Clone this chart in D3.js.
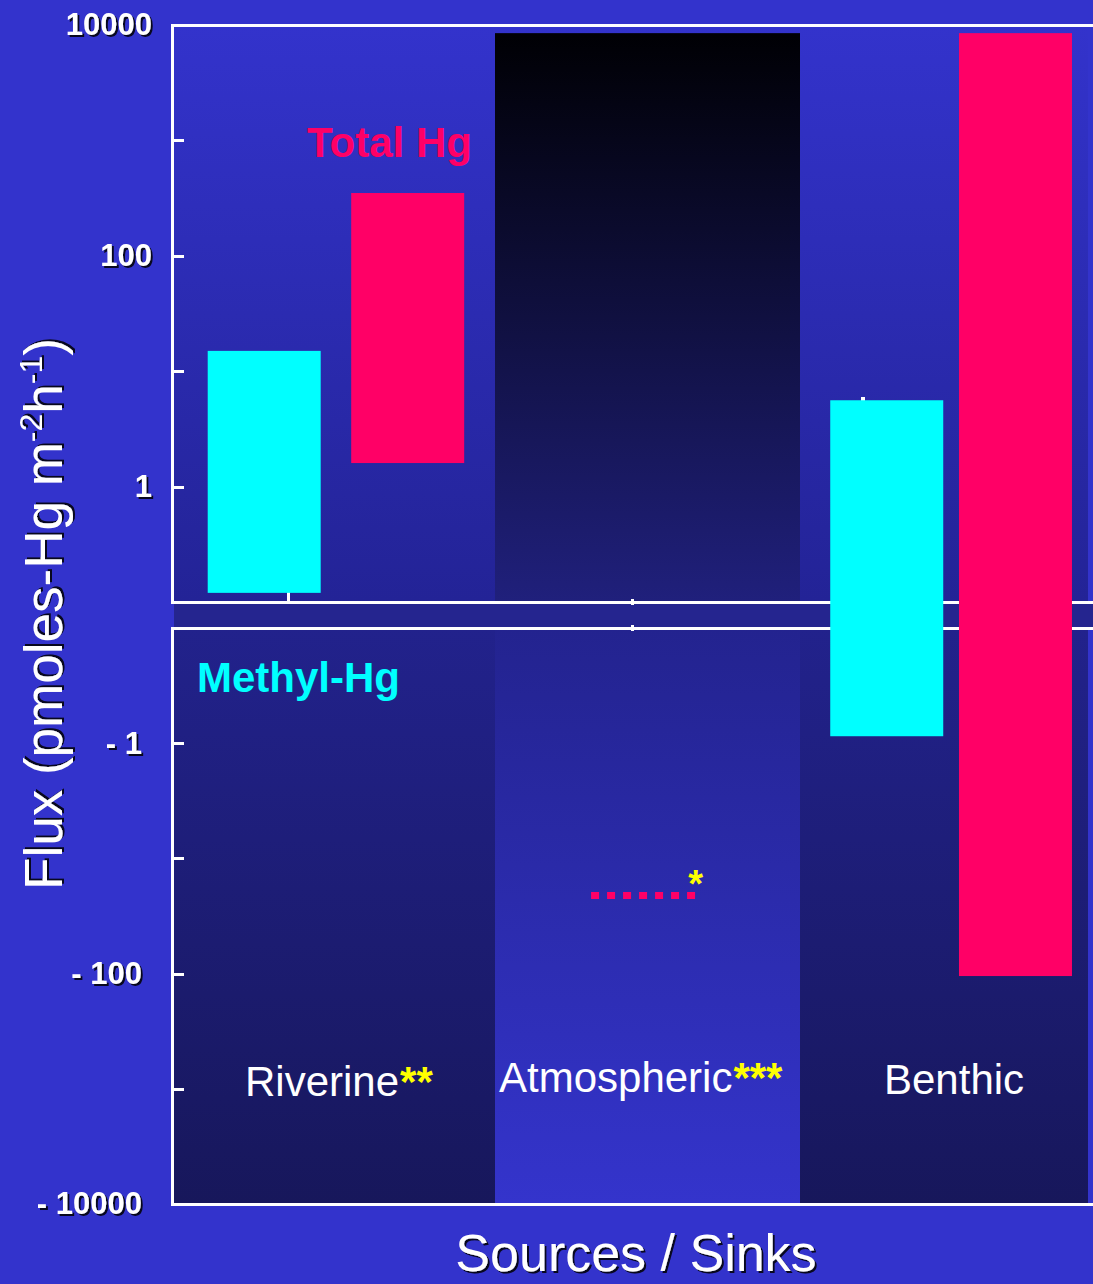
<!DOCTYPE html>
<html>
<head>
<meta charset="utf-8">
<script src="https://cdn.jsdelivr.net/npm/d3@7/dist/d3.min.js"></script>
<style>
  html, body { margin: 0; padding: 0; background: #3333cc; }
  svg { display: block; }
  text { font-family: "Liberation Sans", Arial, sans-serif; }
</style>
</head>
<body>
<svg id="chart" width="1093" height="1284"></svg>
<script>
// ---------------- data ----------------
const categories = ["Riverine", "Atmospheric", "Benthic"];
const categoryStars = ["**", "***", ""];
// Methyl-Hg flux range (pmoles-Hg m-2 h-1); null = not shown
const methylLow  = [0.12, null, -0.87];
const methylHigh = [15,   null, 5.6];
// Total Hg flux range
const totalLow  = [1.6,  -21, -105];
const totalHigh = [350,  -21, 8500];
// Atmospheric source band (upper panel)
const atmosBand = [0.1, 8500];
// axis ticks
const upperTicks = [10000, 1000, 100, 10, 1];
const upperTickLabels = ["10000", "", "100", "", "1"];
const lowerTicks = [-1, -10, -100, -1000, -10000];
const lowerTickLabels = ["- 1", "", "- 100", "", "- 10000"];

// ---------------- layout ----------------
const W = 1093, H = 1284;
const svg = d3.select("#chart");
const defs = svg.append("defs");

function vGrad(id, c0, c1) {
  const g = defs.append("linearGradient").attr("id", id)
    .attr("x1", 0).attr("y1", 0).attr("x2", 0).attr("y2", 1);
  g.append("stop").attr("offset", "0%").attr("stop-color", c0);
  g.append("stop").attr("offset", "100%").attr("stop-color", c1);
}
vGrad("upperBg", "#3333cc", "#232396");
vGrad("atmosBlack", "#000004", "#20207c");
vGrad("lowerDark", "#22228c", "#17175b");
vGrad("lowerLight", "#23238f", "#3434cc");

const sh = defs.append("filter").attr("id", "shadow")
  .attr("x", "-10%").attr("y", "-10%").attr("width", "130%").attr("height", "130%");
sh.append("feDropShadow").attr("dx", 2).attr("dy", 2)
  .attr("stdDeviation", 0.6).attr("flood-color", "#000").attr("flood-opacity", 0.85);

svg.append("rect").attr("width", W).attr("height", H).attr("fill", "#3333cc");

const axisX = 172;
const plotRight = 1088;
const upTop = 25, upBot = 602, loTop = 628, loBot = 1204;

// scales
const x = d3.scaleLinear().domain([0, 1, 2, 3]).range([174, 495, 800, plotRight]);
const yUp = d3.scaleLog().domain([0.1, 10000]).range([upBot, upTop]);
const yLo = d3.scaleLog().domain([0.1, 10000]).range([loTop, loBot]);
const y = v => v > 0 ? yUp(v) : yLo(-v);

// ---------------- backgrounds ----------------
svg.append("rect").attr("x", 174).attr("y", upTop).attr("width", plotRight - 174)
  .attr("height", upBot - upTop).attr("fill", "url(#upperBg)");
svg.append("rect").attr("x", 174).attr("y", upBot).attr("width", W - 174)
  .attr("height", loTop - upBot).attr("fill", "#25258f");
// lower panel column backgrounds
svg.selectAll("rect.col").data(categories).join("rect").attr("class", "col")
  .attr("x", (d, i) => x(i)).attr("width", (d, i) => x(i + 1) - x(i))
  .attr("y", loTop).attr("height", loBot - loTop)
  .attr("fill", (d, i) => i === 1 ? "url(#lowerLight)" : "url(#lowerDark)");
// atmospheric band (upper panel)
svg.append("rect").attr("x", x(1)).attr("width", x(2) - x(1))
  .attr("y", yUp(atmosBand[1])).attr("height", yUp(atmosBand[0]) - yUp(atmosBand[1]))
  .attr("fill", "url(#atmosBlack)");

// ---------------- frame lines ----------------
const lineG = svg.append("g").attr("stroke", "#fff").attr("stroke-width", 3)
  .attr("shape-rendering", "crispEdges");
[upTop, upBot, loTop, loBot].forEach(yy => {
  lineG.append("line").attr("x1", axisX - 1.5).attr("x2", W).attr("y1", yy + 0.5).attr("y2", yy + 0.5);
});
lineG.append("line").attr("x1", axisX + 0.5).attr("x2", axisX + 0.5).attr("y1", upTop - 1).attr("y2", upBot + 2);
lineG.append("line").attr("x1", axisX + 0.5).attr("x2", axisX + 0.5).attr("y1", loTop - 1).attr("y2", loBot + 2);

// x category ticks (small)
lineG.append("line").attr("x1", x(0.356)).attr("x2", x(0.356)).attr("y1", upBot - 10).attr("y2", upBot);
[upBot, loTop].forEach(yy => lineG.append("line").attr("x1", x(1.452)).attr("x2", x(1.452))
  .attr("y1", yy - 3).attr("y2", yy + 3));
lineG.append("line").attr("x1", x(2.218)).attr("x2", x(2.218)).attr("y1", 397).attr("y2", 401)
  .attr("stroke-width", 4);

// ---------------- y axes ----------------
function styleAxis(g) {
  g.select(".domain").remove();
  g.selectAll(".tick line").attr("stroke", "#fff").attr("stroke-width", 3)
    .attr("shape-rendering", "crispEdges");
  g.selectAll(".tick text").attr("fill", "#fff").attr("font-size", 31)
    .attr("font-weight", "bold").attr("font-family", "Liberation Sans, Arial, sans-serif")
    .attr("filter", "url(#shadow)");
}
const axUp = d3.axisLeft(yUp).tickValues(upperTicks)
  .tickFormat((d, i) => upperTickLabels[i]).tickSize(-12).tickPadding(20);
svg.append("g").attr("transform", `translate(${axisX},0)`).call(axUp).call(styleAxis);

const axLo = d3.axisLeft(yLo).tickValues(lowerTicks.map(v => -v))
  .tickFormat((d, i) => lowerTickLabels[i]).tickSize(-12).tickPadding(30);
svg.append("g").attr("transform", `translate(${axisX},0)`).call(axLo).call(styleAxis);

// ---------------- bars ----------------
const barW = 113;
const methylOffset = 0.105, totalOffset = 0.552;
const methylData = categories.map((c, i) => ({ i, lo: methylLow[i], hi: methylHigh[i] }))
  .filter(d => d.lo !== null && d.lo !== d.hi);
const totalData = categories.map((c, i) => ({ i, lo: totalLow[i], hi: totalHigh[i] }))
  .filter(d => d.lo !== d.hi);

svg.selectAll("rect.methyl").data(methylData).join("rect").attr("class", "methyl")
  .attr("x", d => x(d.i + methylOffset)).attr("width", barW)
  .attr("y", d => y(d.hi)).attr("height", d => y(d.lo) - y(d.hi))
  .attr("fill", "#00ffff");
svg.selectAll("rect.total").data(totalData).join("rect").attr("class", "total")
  .attr("x", d => x(d.i + totalOffset)).attr("width", barW)
  .attr("y", d => y(d.hi)).attr("height", d => y(d.lo) - y(d.hi))
  .attr("fill", "#ff0066");

// single-value total (atmospheric) as dotted line
const pointData = categories.map((c, i) => ({ i, v: totalLow[i] }))
  .filter(d => totalLow[d.i] === totalHigh[d.i]);
svg.selectAll("line.pt").data(pointData).join("line").attr("class", "pt")
  .attr("x1", d => x(d.i + 0.315)).attr("x2", d => x(d.i + 0.663))
  .attr("y1", d => y(d.v)).attr("y2", d => y(d.v))
  .attr("stroke", "#ff0066").attr("stroke-width", 7).attr("stroke-dasharray", "8 8");
svg.selectAll("text.pt").data(pointData).join("text").attr("class", "pt")
  .attr("x", d => x(d.i + 0.663) - 9).attr("y", d => y(d.v) + 1)
  .attr("fill", "#ffff00").attr("font-size", 38).attr("font-weight", "bold").text("*");

// ---------------- texts ----------------
svg.append("text").attr("x", 307).attr("y", 157).attr("fill", "#ff0066")
  .attr("font-size", 42).attr("font-weight", "bold").text("Total Hg");
svg.append("text").attr("x", 197).attr("y", 692).attr("fill", "#00ffff")
  .attr("font-size", 42).attr("font-weight", "bold").text("Methyl-Hg");

const catLabelX = [245, 499, 884];
const catLabelY = [1096, 1092, 1094];
categories.forEach((c, i) => {
  const t = svg.append("text").attr("x", catLabelX[i]).attr("y", catLabelY[i])
    .attr("font-size", 42).attr("fill", "#fff");
  t.append("tspan").text(c);
  if (categoryStars[i]) t.append("tspan").attr("fill", "#ffff00").attr("font-weight", "bold")
    .attr("dx", 1).text(categoryStars[i]);
});

svg.append("text").attr("x", 636).attr("y", 1271).attr("text-anchor", "middle")
  .attr("font-size", 52).attr("fill", "#fff").attr("filter", "url(#shadow)")
  .text("Sources / Sinks");

// y title
const yt = svg.append("g").attr("transform", "translate(62,614) rotate(-90)");
const ytxt = yt.append("text").attr("x", 0).attr("y", 0).attr("text-anchor", "middle")
  .attr("font-size", 53).attr("fill", "#fff").attr("filter", "url(#shadow)");
ytxt.append("tspan").text("Flux (pmoles-Hg m");
ytxt.append("tspan").attr("font-size", 32).attr("dy", -20).text("-2");
ytxt.append("tspan").attr("dy", 20).text("h");
ytxt.append("tspan").attr("font-size", 32).attr("dy", -20).text("-1");
ytxt.append("tspan").attr("dy", 20).text(")");
const len = ytxt.node().getComputedTextLength();
const targetLen = 552;
ytxt.attr("transform", `scale(${targetLen / len},1)`);
</script>
</body>
</html>
